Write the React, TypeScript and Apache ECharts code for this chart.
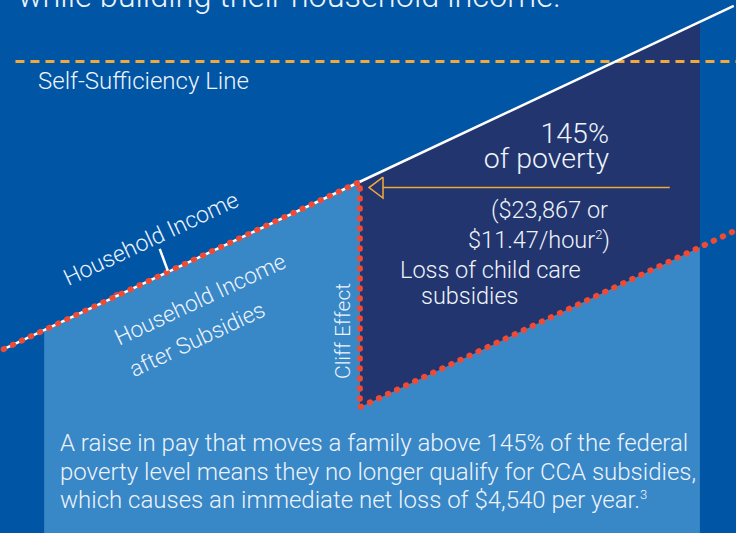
import React, { useEffect, useRef } from "react";
import * as echarts from "echarts";

// ---- Data (abstract index units: x = earnings, y = income) ----
const householdIncome: [number, number][] = [
  [0.5, 34.5],
  [48.9, 65.9],
  [99.7, 98.9],
];
const incomeAfterSubsidies: [number, number][] = [
  [0.5, 34.5],
  [48.9, 65.9],
  [48.9, 23.6],
  [100, 56.8],
];
const panelIncomeAfterSubsidies: [number, number][] = [
  [6.0, 38.0],
  [48.9, 65.9],
  [48.9, 23.6],
  [95.1, 53.6],
];
const cliffLoss: [number, number][] = [
  [48.9, 65.9],
  [95.1, 95.9],
];
const selfSufficiency: [number, number][] = [
  [2.1, 88.45],
  [100, 88.45],
];
const povertyArrow: [number, number][] = [
  [91.0, 64.8],
  [52.04, 64.8],
];
const povertyArrowHead: [number, number][] = [
  [52.04, 66.77],
  [50.14, 64.8],
  [52.04, 62.83],
  [52.04, 66.77],
];
const incomePointer: [number, number][] = [
  [21.7, 53.3],
  [22.8, 49.2],
];
const subsidyPointerDots: [number, number][] = [
  [16.3, 42.4],
  [17.1, 40.3],
];
const subsidyPointerAnchor: [number, number][] = [[15.9, 44.5]];

const BG = "#0155a5";
const LIGHT = "#3887c7";
const NAVY = "#22356f";
const RED = "#ee4b36";
const ORANGE = "#f2a93b";
const TXT = "#eef3fa";
const FONT = "Roboto";

const ANG = Math.atan(0.47);

function txt(
  text: string,
  x: number,
  y: number,
  size: number,
  align: "left" | "center" | "right" = "left",
  rotation = 0,
  rich?: any
) {
  return {
    type: "text",
    x,
    y,
    rotation,
    silent: true,
    z: 100,
    style: {
      text,
      fill: TXT,
      fontFamily: FONT,
      fontWeight: 300,
      fontSize: size,
      textAlign: align,
      textVerticalAlign: "middle",
      rich,
    },
  };
}

export default function App() {
  const ref = useRef<HTMLDivElement>(null);
  useEffect(() => {
    if (!ref.current) return;
    const chart = echarts.init(ref.current, undefined, { renderer: "svg" });
    const supRich = (size: number) => ({
      a: { fontFamily: FONT, fontWeight: 300, fontSize: size, color: TXT },
      s: {
        fontFamily: FONT,
        fontWeight: 300,
        fontSize: Math.round(size * 0.55),
        color: TXT,
        verticalAlign: "top",
      },
    });
    chart.setOption({
      animation: false,
      backgroundColor: BG,
      grid: { left: 0, right: 0, top: 0, bottom: 0, containLabel: false },
      xAxis: { type: "value", min: 0, max: 100, show: false },
      yAxis: { type: "value", min: 0, max: 100, show: false },
      series: [
        {
          type: "line",
          data: cliffLoss,
          symbol: "none",
          silent: true,
          lineStyle: { opacity: 0 },
          areaStyle: { color: NAVY, opacity: 1 },
        },
        {
          type: "line",
          data: panelIncomeAfterSubsidies,
          symbol: "none",
          silent: true,
          lineStyle: { opacity: 0 },
          areaStyle: { color: LIGHT, opacity: 1 },
        },
        {
          type: "line",
          data: selfSufficiency,
          symbol: "none",
          silent: true,
          lineStyle: { color: ORANGE, width: 3, type: [9, 6] },
        },
        {
          type: "line",
          data: householdIncome,
          symbol: "none",
          silent: true,
          lineStyle: { color: "#ffffff", width: 2.5 },
        },
        {
          type: "line",
          data: incomeAfterSubsidies,
          symbol: "none",
          silent: true,
          lineStyle: { color: RED, width: 6, type: [0.5, 9.5], cap: "round" },
        },
        {
          type: "line",
          data: povertyArrow,
          symbol: "none",
          silent: true,
          lineStyle: { color: ORANGE, width: 1.5 },
        },
        {
          type: "line",
          data: povertyArrowHead,
          symbol: "none",
          silent: true,
          lineStyle: { color: ORANGE, width: 1.5, join: "miter" },
        },
        {
          type: "line",
          data: incomePointer,
          symbol: "none",
          silent: true,
          lineStyle: { color: "#ffffff", width: 2.5 },
        },
        {
          type: "scatter",
          data: subsidyPointerDots,
          symbol: "circle",
          symbolSize: 6,
          silent: true,
          itemStyle: { color: RED },
        },
        {
          type: "scatter",
          data: subsidyPointerAnchor,
          symbol: "circle",
          symbolSize: 8,
          silent: true,
          itemStyle: { color: RED },
        },
      ],
      graphic: [
        txt("while building their household income.", 18, -4, 32.5),
        txt("Self-Sufficiency Line", 38, 81, 24),
        txt("145%", 609, 133.5, 28.5, "right"),
        txt("of poverty", 609, 158.5, 28.5, "right"),
        txt("($23,867 or", 608, 209.5, 23.5, "right"),
        txt("{a|$11.47/hour}{s|2}{a|)}", 610, 239.5, 23.5, "right", 0, supRich(23.5)),
        txt("Loss of child care", 400, 269.5, 23.5),
        txt("subsidies", 421, 295.5, 23.5),
        txt("Cliff Effect", 343, 331, 21, "center", Math.PI / 2),
        txt("Household Income", 151, 239, 23, "center", ANG),
        txt("Household Income", 200, 299, 22.5, "center", ANG),
        txt("after Subsidies", 197, 339, 22.5, "center", ANG),
        txt("A raise in pay that moves a family above 145% of the federal", 60, 443, 24),
        txt("poverty level means they no longer qualify for CCA subsidies,", 60, 471.5, 24),
        txt(
          "{a|which causes an immediate net loss of $4,540 per year.}{s|3}",
          60,
          500,
          24,
          "left",
          0,
          supRich(24)
        ),
      ],
    });
    return () => chart.dispose();
  }, []);
  return (
    <div
      ref={ref}
      style={{ position: "fixed", left: 0, top: 0, width: 736, height: 533 }}
    />
  );
}
